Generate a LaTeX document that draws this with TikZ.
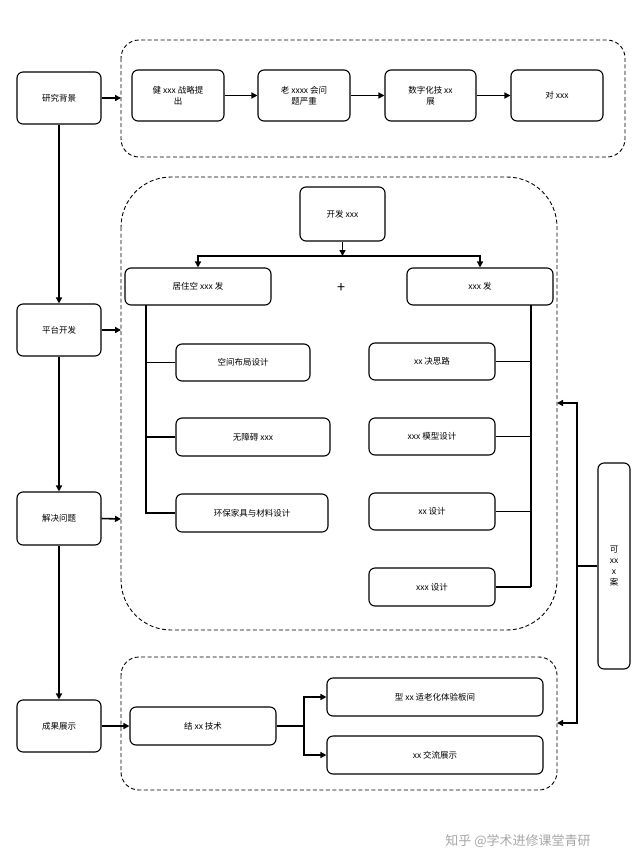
\documentclass[tikz,border=0pt]{standalone}
\usepackage{fontspec}
\setmainfont{Noto Sans CJK SC}
\usetikzlibrary{arrows.meta}
\tikzset{
  box/.style={draw, line width=1.1pt, rounded corners=6pt, align=center, font=\fontsize{8.5}{11}\selectfont, inner sep=2pt},
  group/.style={draw, line width=0.9pt, dash pattern=on 4pt off 2.5pt, rounded corners=#1},
  link/.style={line width=1.6pt},
  arr/.style={line width=1.6pt, -{Triangle[length=6pt,width=6pt]}}
}
\newcommand{\boxat}[6]{\node[box, minimum width=#4-#2, minimum height=#5-#3] (#1) at ({(#2+#4)/2},{(#3+#5)/2}) {#6};}
\begin{document}
\begin{tikzpicture}[x=1pt,y=-1pt]
\useasboundingbox (0,0) rectangle (632,868);
% groups
\draw[group=18pt] (121,40) rectangle (625,157);
\draw[group=50pt] (121,177) rectangle (557,630);
\draw[group=18pt] (121,657) rectangle (557,790);
% left column
\boxat{bg}{17}{72}{101}{124}{研究背景}
\boxat{dev}{17}{304}{101}{356}{平台开发}
\boxat{sol}{17}{492}{101}{545}{解决问题}
\boxat{res}{17}{700}{101}{752}{成果展示}
\draw[arr] (bg) -- (dev);
\draw[arr] (dev) -- (sol);
\draw[arr] (sol) -- (res);
\coordinate (g1) at (121,98);
\coordinate (g2) at (121,330);
\coordinate (g3) at (121,519);
\draw[arr] (bg.east) -- (g1);
\draw[arr] (dev.east) -- (g2);
\draw[arr] (sol.east) -- (g3);
% background row
\boxat{b1}{132}{70}{224}{121}{健 xxx 战略提\\出}
\boxat{b2}{258}{70}{350}{121}{老 xxxx 会问\\题严重}
\boxat{b3}{385}{70}{476}{121}{数字化技 xx\\展}
\boxat{b4}{511}{70}{603}{121}{对 xxx}
\draw[arr] (b1) -- (b2);
\draw[arr] (b2) -- (b3);
\draw[arr] (b3) -- (b4);
% platform
\boxat{top}{300}{187}{385}{241}{开发 xxx}
\boxat{home}{125}{268}{271}{305}{居住空 xxx 发}
\boxat{soft}{407}{268}{553}{305}{xxx 发}
\node[font=\Large] (plus) at (341,288) {+};
\coordinate (split) at (342.5,256);
\draw[arr] (top.south) -- (split);
\draw[arr] (split) -| (home.north);
\draw[arr] (split) -| (soft.north);
\boxat{l1}{176}{344}{310}{381}{空间布局设计}
\boxat{l2}{176}{418}{330}{456}{无障碍 xxx}
\boxat{l3}{176}{494}{328}{532}{环保家具与材料设计}
\boxat{r1}{369}{343}{495}{380}{xx 决思路}
\boxat{r2}{369}{418}{495}{455}{xxx 模型设计}
\boxat{r3}{369}{493}{495}{530}{xx 设计}
\boxat{r4}{369}{568}{495}{606}{xxx 设计}
\coordinate (lt) at (146,305);
\coordinate (lb) at (146,514);
\coordinate (rt) at (531,305);
\coordinate (rb) at (531,587);
\draw[link] (lt) -- (lb);
\draw[link] (rt) -- (rb);
\foreach \n in {l1,l2,l3} \draw[link] (\n.west) -- (\n.west -| lt);
\foreach \n in {r1,r2,r3,r4} \draw[link] (\n.east) -- (\n.east -| rt);
% results
\boxat{tech}{130}{707}{276}{745}{结 xx 技术}
\boxat{o1}{327}{678}{543}{716}{型 xx 适老化体验板间}
\boxat{o2}{327}{736}{543}{774}{xx 交流展示}
\draw[arr] (res.east) -- (tech.west);
\coordinate (fork) at (304,726);
\draw[link] (tech.east) -- (fork);
\draw[arr] (fork) |- (o1.west);
\draw[arr] (fork) |- (o2.west);
% feasibility
\boxat{feas}{598}{463}{630}{669}{可\\xx\\x\\案}
\coordinate (fj) at (577,566);
\coordinate (fa) at (557,403);
\coordinate (fb) at (557,723);
\draw[link] (feas.west |- fj) -- (fj);
\draw[arr] (fj) |- (fa);
\draw[arr] (fj) |- (fb);
% watermark
\node[text=black!35, font=\fontsize{13}{15}\selectfont] (mark) at (518,841) {知乎 @学术进修课堂青研};
\end{tikzpicture}
\end{document}
